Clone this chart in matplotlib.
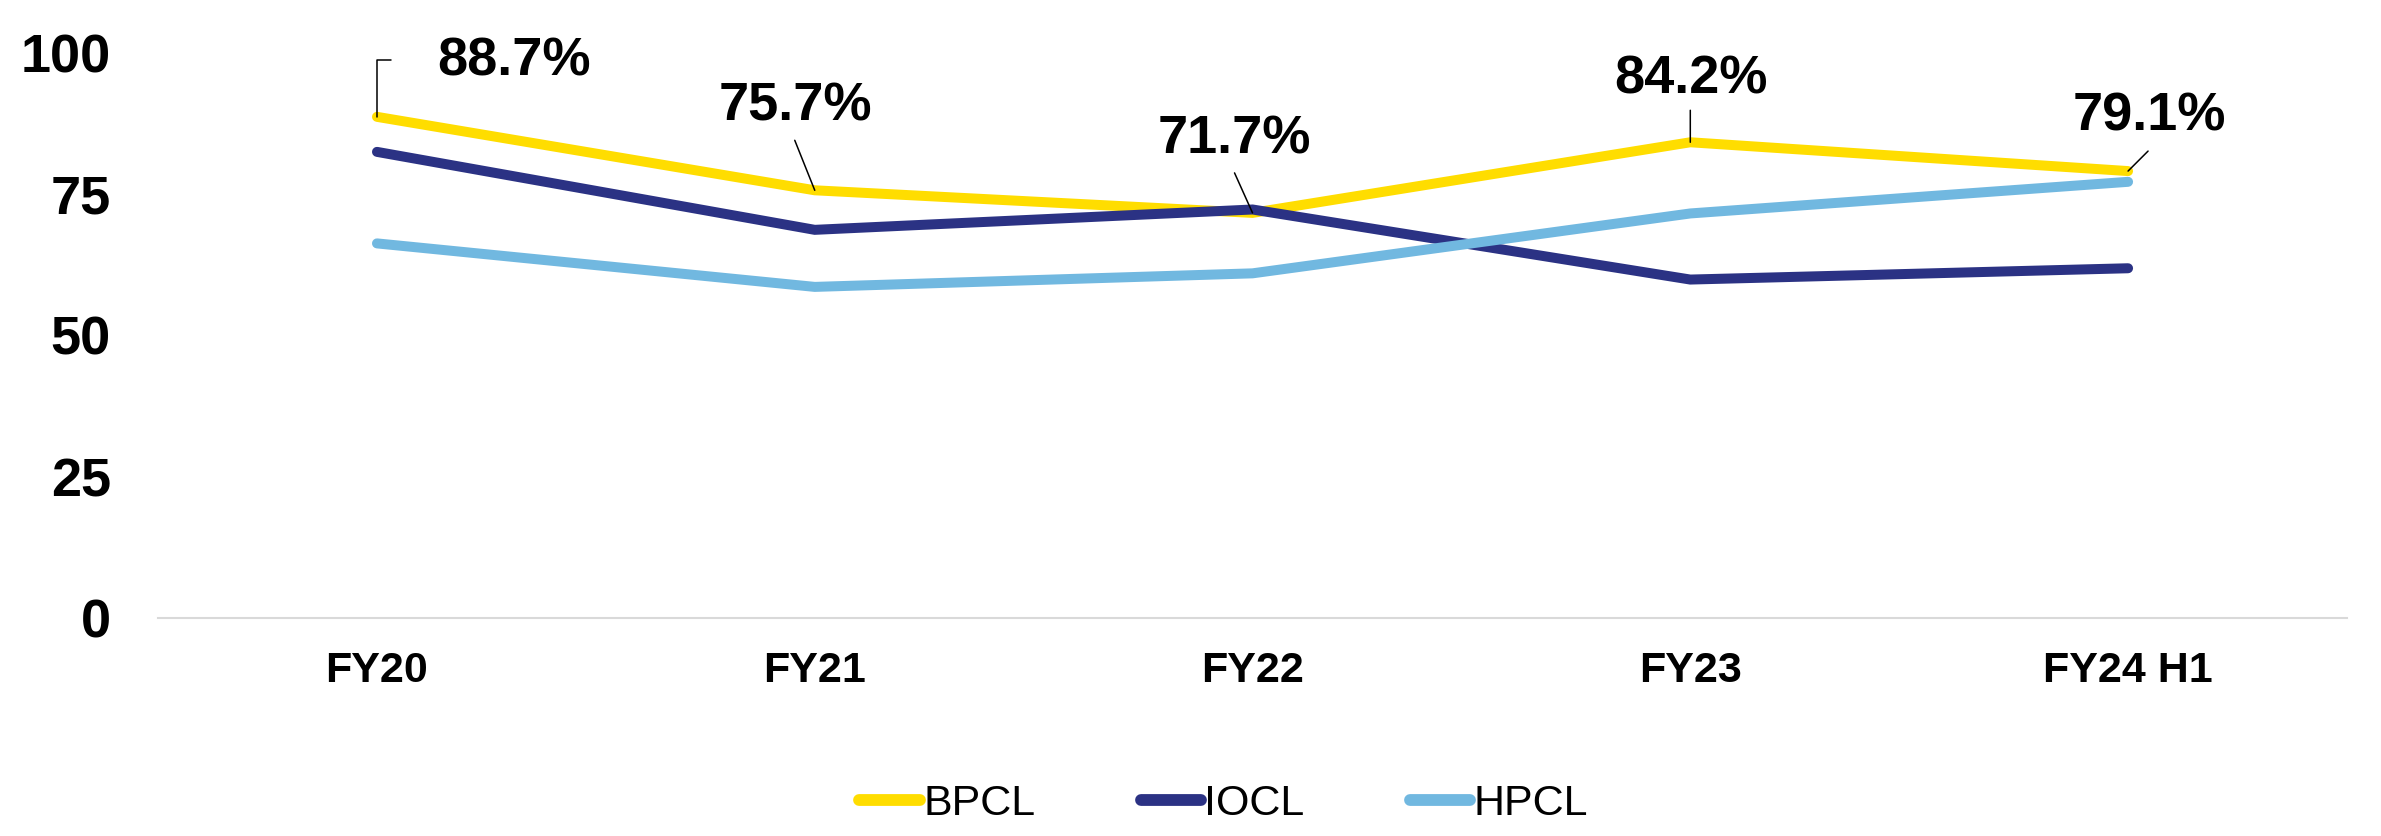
import matplotlib
matplotlib.use("Agg")
import matplotlib.pyplot as plt

plt.rcParams['font.family'] = ['Liberation Sans', 'DejaVu Sans']

# Data
categories = ["FY20", "FY21", "FY22", "FY23", "FY24 H1"]
bpcl = [88.7, 75.7, 71.7, 84.2, 79.1]
iocl = [82.5, 68.7, 72.3, 59.9, 61.9]
hpcl = [66.3, 58.6, 61.0, 71.6, 77.2]
y_ticks = [0, 25, 50, 75, 100]

colors = {"BPCL": "#FFDD00", "IOCL": "#2B3284", "HPCL": "#71B8E0"}

fig = plt.figure(figsize=(23.81, 8.36), dpi=100)
ax = fig.add_axes([0.0664, 0.2608, 0.9193, 0.6758])

x = list(range(len(categories)))
lw = 7.2
for name, vals in (("BPCL", bpcl), ("IOCL", iocl), ("HPCL", hpcl)):
    ax.plot(x, vals, color=colors[name], lw=lw, solid_capstyle='round',
            solid_joinstyle='miter', label=name)

ax.set_xlim(-0.5, len(categories) - 0.5)
ax.set_ylim(0, 100)
ax.set_yticks(y_ticks)
ax.set_yticklabels([str(t) for t in y_ticks], fontsize=39, fontweight='bold')
ax.set_xticks(x)
ax.set_xticklabels(categories, fontsize=31, fontweight='bold')
ax.tick_params(axis='y', length=0, pad=34)
ax.tick_params(axis='x', length=0, pad=24)

for s in ("top", "right", "left"):
    ax.spines[s].set_visible(False)
ax.spines["bottom"].set_color("#D9D9D9")
ax.spines["bottom"].set_linewidth(1.5)

# BPCL value labels: text offset and leader-end offset from each point, in pixels
label_offsets = [(137, 55), (-19, 84), (-18, 73), (1, 63), (21, 55)]
leader_offsets = [(14, 57), (-20, 50), (-18, 40), (0, 32), (20, 20)]
for i, v in enumerate(bpcl):
    tx, ty = label_offsets[i]
    ax.annotate(f"{v:.1f}%", xy=(x[i], v), xytext=(tx, ty),
                textcoords='offset pixels', ha='center', va='center',
                fontsize=39, fontweight='bold', color='black')
    lx, ly = leader_offsets[i]
    cs = "angle,angleA=180,angleB=90,rad=0" if i == 0 else "arc3"
    ax.annotate("", xy=(x[i], v), xytext=(lx, ly), textcoords='offset pixels',
                arrowprops=dict(arrowstyle='-', color='black', lw=1.1,
                                shrinkA=0, shrinkB=0, connectionstyle=cs))

leg = fig.legend(loc='center', bbox_to_anchor=(0.514, 0.038), ncol=3,
                 frameon=False, fontsize=31, handlelength=1.4,
                 handletextpad=0.08, columnspacing=2.45, borderpad=0)
for h in leg.get_lines():
    h.set_linewidth(8.5)
    h.set_solid_capstyle('round')

fig.savefig("out.png", dpi=100)
